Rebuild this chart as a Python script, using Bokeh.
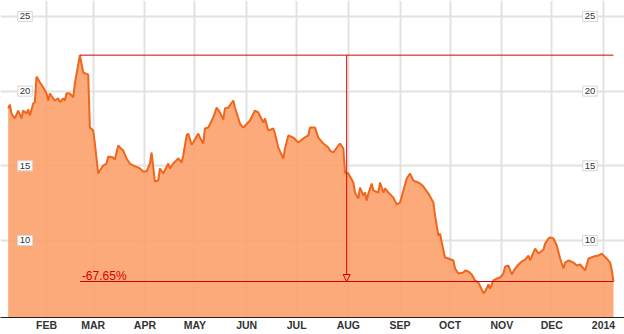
import pandas as pd
from bokeh.plotting import figure
from bokeh.models import (Range1d, FixedTicker, ColumnDataSource, Label,
                          Arrow, NormalHead)
from bokeh.embed import file_html
from bokeh.resources import INLINE

# ---------------- data ----------------
start_date = "2013-01-01"
day_offsets = [
    8, 9, 10, 12, 14, 16, 17, 19, 20, 21, 23, 24, 25, 27, 29, 31, 32, 33, 35, 36,
    38, 39, 41, 42, 43, 45, 47, 48, 51, 53, 56, 57, 59, 60, 62, 63, 65, 67, 68, 71,
    72, 74, 75, 77, 79, 81, 83, 86, 87, 89, 91, 93, 94, 96, 98, 99, 101, 104, 105, 107,
    110, 112, 113, 115, 116, 118, 119, 122, 123, 125, 126, 128, 131, 133, 135, 137, 138, 140, 143, 144,
    147, 149, 153, 156, 158, 161, 162, 164, 167, 168, 170, 173, 174, 176, 179, 182, 185, 188, 189, 192,
    194, 197, 200, 201, 203, 206, 207, 209, 210, 212, 215, 216, 218, 219, 221, 222, 223, 224, 226, 227,
    230, 231, 233, 234, 236, 239, 241, 243, 245, 247, 249, 251, 254, 255, 257, 260, 263, 264, 266, 267,
    269, 270, 272, 275, 276, 278, 281, 282, 284, 286, 288, 290, 292, 293, 294, 296, 297, 299, 301, 303,
    305, 306, 308, 310, 312, 314, 316, 318, 320, 321, 324, 326, 329, 330, 332, 333, 335, 337, 339, 341,
    342, 344, 347, 349, 351, 354, 356, 359, 362, 364, 365, 367, 369, 370, 371,
]
prices = [
    18.84, 19.10, 18.50, 18.17, 18.70, 18.17, 18.70, 18.50, 18.77, 18.37, 19.17, 19.26, 20.98, 20.60, 20.26, 19.84, 19.37, 19.84, 19.51, 19.37,
    19.51, 19.26, 19.51, 19.37, 19.86, 19.84, 19.59, 20.51, 22.41, 21.25, 21.11, 17.56, 17.36, 16.49, 14.48, 14.68, 15.02, 15.15, 15.62, 15.55,
    15.42, 16.36, 16.22, 16.02, 15.49, 15.15, 15.02, 14.88, 14.82, 14.62, 14.62, 15.15, 15.89, 13.95, 14.01, 14.82, 14.48, 15.15, 14.82, 15.15,
    15.49, 15.22, 15.69, 17.03, 17.16, 16.42, 16.56, 17.16, 16.89, 16.49, 17.50, 17.56, 18.23, 18.90, 18.57, 18.10, 18.84, 18.90, 19.37, 18.90,
    17.83, 17.56, 18.03, 18.70, 18.57, 17.90, 18.17, 17.36, 17.50, 17.16, 16.22, 15.49, 16.16, 17.03, 16.89, 16.56, 16.83, 17.03, 17.56, 17.56,
    16.89, 16.49, 16.22, 16.02, 15.89, 16.36, 16.49, 16.16, 14.55, 14.48, 13.88, 13.21, 12.81, 13.54, 13.01, 13.21, 12.67, 13.14, 13.81, 13.34,
    13.21, 13.88, 13.21, 13.48, 13.21, 12.87, 12.41, 12.54, 13.34, 14.15, 14.48, 14.01, 13.88, 13.81, 13.61, 13.14, 12.54, 11.67, 10.33, 10.46,
    9.32, 8.86, 8.79, 8.66, 8.12, 7.78, 7.85, 7.99, 7.92, 7.72, 7.32, 7.18, 6.71, 6.45, 6.58, 7.05, 6.78, 7.32, 7.45, 7.52,
    7.78, 8.25, 8.32, 7.72, 8.12, 8.39, 8.59, 8.72, 8.99, 8.66, 9.46, 9.12, 9.39, 9.79, 10.13, 10.20, 10.13, 9.66, 8.79, 8.12,
    8.52, 8.66, 8.52, 8.32, 8.39, 7.99, 8.79, 8.92, 8.99, 9.12, 8.99, 8.79, 8.52, 7.99, 7.25,
]
month_ticks = ["2013-02-01", "2013-03-01", "2013-04-01", "2013-05-01", "2013-06-01", "2013-07-01",
               "2013-08-01", "2013-09-01", "2013-10-01", "2013-11-01", "2013-12-01", "2014-01-01"]
month_labels = ["FEB", "MAR", "APR", "MAY", "JUN", "JUL", "AUG", "SEP", "OCT", "NOV", "DEC", "2014"]
y_ticks = [10, 15, 20, 25]
y_tick_labels = ["10", "15", "20", "25"]

# ---------------- derived ----------------
dates = pd.Timestamp(start_date) + pd.to_timedelta(day_offsets, unit="D")
df = pd.DataFrame({"date": dates, "price": prices})
src = ColumnDataSource(df)

def ms(ts):
    return pd.Timestamp(ts).value / 1e6

peak_i = int(df["price"].idxmax())
peak_date = df["date"].iloc[peak_i]
peak_val = df["price"].iloc[peak_i]
last_date = df["date"].iloc[-1]
last_val = df["price"].iloc[-1]
mid_date = peak_date + (last_date - peak_date) / 2
pct_text = "%.2f%%" % ((last_val / peak_val - 1) * 100)

RED = "#d40000"
LINE = "#f0661c"
FILL = "#fca16c"

p = figure(width=624, height=334, x_axis_type="datetime", y_axis_location=None,
           output_backend="svg", toolbar_location=None,
           x_range=Range1d(dates[0] - pd.Timedelta(days=4.6), dates[-1] + pd.Timedelta(days=6.6)),
           y_range=Range1d(4.84, 26.07),
           min_border=0, min_border_left=0, min_border_right=0, min_border_top=0,
           min_border_bottom=17)
p.outline_line_color = None
p.background_fill_color = "white"
p.border_fill_color = "white"

tick_ms = [ms(t) for t in month_ticks]
p.xaxis.ticker = FixedTicker(ticks=tick_ms)
p.xaxis.major_label_overrides = {t: l for t, l in zip(tick_ms, month_labels)}
p.xaxis.major_tick_line_color = None
p.xaxis.minor_tick_line_color = None
p.xaxis.major_tick_out = 0
p.xaxis.major_tick_in = 0
p.xaxis.minor_tick_out = 0
p.xaxis.minor_tick_in = 0
p.xaxis.axis_line_color = "#222222"
p.xaxis.axis_line_width = 1
p.xaxis.major_label_standoff = 1
p.xaxis.major_label_text_font = "Liberation Sans Narrow, Arial Narrow, Liberation Sans"
p.xaxis.major_label_text_font_size = "10.5px"
p.xaxis.major_label_text_font_style = "bold"
p.xaxis.major_label_text_color = "#333333"

p.xgrid.ticker = FixedTicker(ticks=tick_ms)
p.ygrid.ticker = FixedTicker(ticks=y_ticks)
for g in (p.xgrid, p.ygrid):
    g.grid_line_color = "#e2e2e2"
    g.grid_line_width = 2

p.varea(x="date", y1=0, y2="price", source=src, fill_color=FILL, fill_alpha=0.9)
p.line(x="date", y="price", source=src, line_color=LINE, line_width=2)

# drawdown markers
p.segment(x0=[peak_date, peak_date], y0=[peak_val, last_val],
          x1=[last_date, last_date], y1=[peak_val, last_val],
          line_color=RED, line_width=1)
p.add_layout(Arrow(end=NormalHead(size=7, fill_alpha=0, line_color=RED, line_width=1),
                   x_start=ms(mid_date), y_start=peak_val, x_end=ms(mid_date), y_end=last_val,
                   line_color=RED, line_width=1))
p.add_layout(Label(x=ms(peak_date), y=last_val, x_offset=2, y_offset=6, text=pct_text,
                   text_baseline="alphabetic", text_align="left",
                   text_font="Liberation Sans", text_font_size="12px", text_color=RED))

# y tick labels in boxes, inside on both sides
for sx in (24.5, 589.5):
    for yv, txt in zip(y_ticks, y_tick_labels):
        p.add_layout(Label(x=sx, y=yv, x_units="screen", text=txt,
                           text_align="center", text_baseline="middle",
                           text_font="Liberation Sans", text_font_size="9.5px",
                           text_color="#333333", background_fill_color="white",
                           border_line_color="#d6d6d6", border_line_width=1, padding=2))

open("out.html", "w").write(file_html(p, INLINE))
